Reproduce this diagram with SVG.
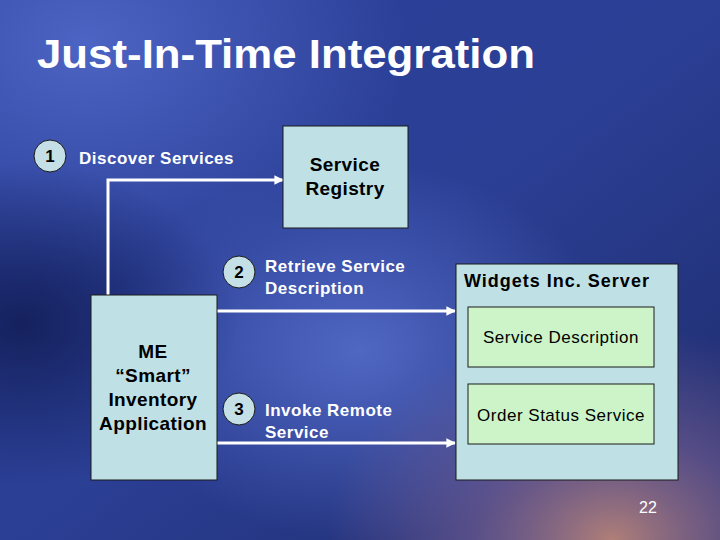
<svg xmlns="http://www.w3.org/2000/svg" width="720" height="540" viewBox="0 0 720 540">
<defs>
<linearGradient id="bg" x1="0" y1="0" x2="1" y2="1">
<stop offset="0" stop-color="#2a3f9a"/>
<stop offset="0.5" stop-color="#2b3f95"/>
<stop offset="1" stop-color="#1d2a6a"/>
</linearGradient>
<radialGradient id="g1" cx="0.12" cy="0.08" r="0.45">
<stop offset="0" stop-color="#5068c8" stop-opacity="0.9"/>
<stop offset="1" stop-color="#5068c8" stop-opacity="0"/>
</radialGradient>
<radialGradient id="g2" cx="0.5" cy="0.65" r="0.35">
<stop offset="0" stop-color="#5a72d0" stop-opacity="0.8"/>
<stop offset="1" stop-color="#5a72d0" stop-opacity="0"/>
</radialGradient>
<radialGradient id="g3" cx="0.85" cy="1.0" r="0.4">
<stop offset="0" stop-color="#c08878" stop-opacity="0.9"/>
<stop offset="0.5" stop-color="#8a6a98" stop-opacity="0.5"/>
<stop offset="1" stop-color="#8a6a98" stop-opacity="0"/>
</radialGradient>
<radialGradient id="g4" cx="0.03" cy="0.6" r="0.3">
<stop offset="0" stop-color="#101a50" stop-opacity="0.8"/>
<stop offset="1" stop-color="#101a50" stop-opacity="0"/>
</radialGradient>
<marker id="arr" viewBox="0 0 10 10" refX="9" refY="5" markerWidth="3.2" markerHeight="3.2" orient="auto" markerUnits="strokeWidth">
<path d="M0,0 L10,5 L0,10 z" fill="#ffffff"/>
</marker>
<style>
.wt{font-family:"Liberation Sans",Arial,sans-serif;font-weight:bold;fill:#ffffff;font-size:17px;letter-spacing:0.5px}
.bt{font-family:"Liberation Sans",Arial,sans-serif;font-weight:bold;fill:#000000;font-size:19px;letter-spacing:0.4px;text-anchor:middle}
.nt{font-family:"Liberation Sans",Arial,sans-serif;fill:#000000;font-size:17px;letter-spacing:0.5px;text-anchor:middle}
.box{fill:#bfe0e4;stroke:#1a1a1a;stroke-width:1}
.inner{fill:#ccf4c8;stroke:#1a1a1a;stroke-width:1}
.circ{fill:#c4dfe6;stroke:#1a1a1a;stroke-width:1}
.ct{font-family:"Liberation Sans",Arial,sans-serif;font-weight:bold;fill:#000000;font-size:17px;text-anchor:middle}
.conn{fill:none;stroke:#ffffff;stroke-width:3}
</style>
</defs>
<rect width="720" height="540" fill="url(#bg)"/>
<rect width="720" height="540" fill="url(#g1)"/>
<rect width="720" height="540" fill="url(#g2)"/>
<rect width="720" height="540" fill="url(#g4)"/>
<rect width="720" height="540" fill="url(#g3)"/>

<text x="37" y="68" font-family="'Liberation Sans',Arial,sans-serif" font-weight="bold" font-size="40" fill="#ffffff" textLength="498" lengthAdjust="spacingAndGlyphs">Just-In-Time Integration</text>

<g id="connectors">
<polyline class="conn" points="108,295 108,180 283,180" marker-end="url(#arr)"/>
<line class="conn" x1="217" y1="311" x2="455" y2="311" marker-end="url(#arr)"/>
<line class="conn" x1="217" y1="443" x2="455" y2="443" marker-end="url(#arr)"/>
</g>

<g id="step1">
<circle class="circ" cx="50" cy="156" r="16"/>
<text class="ct" x="50" y="162">1</text>
<text class="wt" x="79" y="164">Discover Services</text>
</g>

<g id="step2">
<circle class="circ" cx="239" cy="272" r="16"/>
<text class="ct" x="239" y="278">2</text>
<text class="wt" x="265" y="272">Retrieve Service</text>
<text class="wt" x="265" y="294">Description</text>
</g>

<g id="step3">
<circle class="circ" cx="239" cy="409" r="16"/>
<text class="ct" x="239" y="415">3</text>
<text class="wt" x="265" y="416">Invoke Remote</text>
<text class="wt" x="265" y="438">Service</text>
</g>

<g id="service-registry">
<rect class="box" x="283" y="126" width="125" height="102"/>
<text class="bt" x="345" y="171">Service</text>
<text class="bt" x="345" y="195">Registry</text>
</g>

<g id="me-app">
<rect class="box" x="91" y="295" width="126" height="185"/>
<text class="bt" x="153" y="358">ME</text>
<text class="bt" x="153" y="382">“Smart”</text>
<text class="bt" x="153" y="406">Inventory</text>
<text class="bt" x="153" y="430">Application</text>
</g>

<g id="widgets-server">
<rect class="box" x="456" y="264" width="222" height="216"/>
<text class="bt" x="464" y="287" style="text-anchor:start;font-size:18px;letter-spacing:1px">Widgets Inc. Server</text>
</g>

<g id="service-description">
<rect class="inner" x="468" y="307" width="186" height="60"/>
<text class="nt" x="561" y="343">Service Description</text>
</g>

<g id="order-status">
<rect class="inner" x="468" y="384" width="186" height="60"/>
<text class="nt" x="561" y="421">Order Status Service</text>
</g>

<text x="648" y="513" font-family="'Liberation Sans',Arial,sans-serif" font-size="16" fill="#ffffff" text-anchor="middle">22</text>
</svg>
